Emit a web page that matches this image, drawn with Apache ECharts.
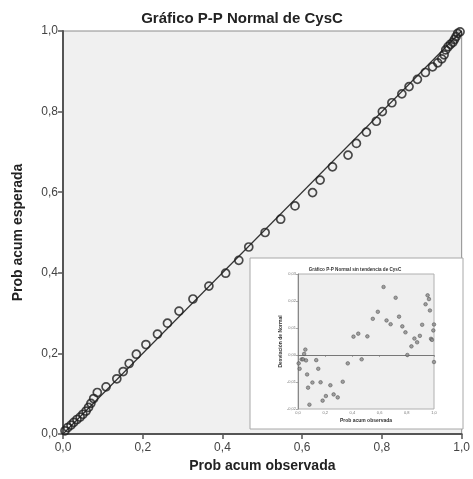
<!DOCTYPE html>
<html>
<head>
<meta charset="utf-8">
<script src="https://cdn.jsdelivr.net/npm/echarts@6/dist/echarts.min.js"></script>
<style>
html,body{margin:0;padding:0;background:#fff;}
#c{width:473px;height:479px;}
</style>
</head>
<body>
<div id="c"></div>
<script>
// ---- Data ----
var mainTitle = 'Gráfico P-P Normal de CysC';
var xName = 'Prob acum observada';
var yName = 'Prob acum esperada';
var mainTicks = ['0,0', '0,2', '0,4', '0,6', '0,8', '1,0'];

// Main P-P plot: observed cumulative prob vs expected cumulative prob
var observed = [0.005, 0.012, 0.020, 0.027, 0.035, 0.043, 0.050, 0.058, 0.064, 0.070,
  0.077, 0.086, 0.108, 0.135, 0.151, 0.166, 0.184, 0.208, 0.237, 0.262,
  0.291, 0.326, 0.366, 0.408, 0.441, 0.466, 0.507, 0.546, 0.582, 0.626,
  0.645, 0.676, 0.715, 0.736, 0.761, 0.786, 0.801, 0.825, 0.850, 0.868,
  0.889, 0.909, 0.927, 0.940, 0.950, 0.956, 0.960, 0.966, 0.972, 0.978,
  0.982, 0.986, 0.990, 0.996];
var expected = [0.008, 0.016, 0.022, 0.029, 0.036, 0.042, 0.049, 0.057, 0.066, 0.076,
  0.088, 0.103, 0.117, 0.137, 0.155, 0.175, 0.198, 0.222, 0.248, 0.275,
  0.305, 0.335, 0.367, 0.399, 0.431, 0.464, 0.500, 0.533, 0.566, 0.599,
  0.630, 0.663, 0.692, 0.721, 0.749, 0.776, 0.800, 0.822, 0.844, 0.862,
  0.880, 0.897, 0.911, 0.921, 0.931, 0.941, 0.953, 0.961, 0.967, 0.972,
  0.979, 0.986, 0.994, 0.998];
var refLine = [[0, 0], [1, 1]];

// Inset: detrended P-P plot
var insetTitle = 'Gráfico P-P Normal sin tendencia de CysC';
var insetYName = 'Desviación de Normal';
var insetXName = 'Prob acum observada';
var insetXTicks = ['0,0', '0,2', '0,4', '0,6', '0,8', '1,0'];
var insetYTicks = ['-0,02', '-0,01', '0,00', '0,01', '0,02', '0,03'];
var detObserved = [0.005, 0.012, 0.027, 0.037, 0.045, 0.054, 0.059, 0.067, 0.074, 0.084,
  0.106, 0.134, 0.149, 0.166, 0.181, 0.205, 0.238, 0.262, 0.292, 0.329,
  0.366, 0.408, 0.443, 0.468, 0.510, 0.550, 0.587, 0.629, 0.651, 0.681,
  0.718, 0.743, 0.767, 0.790, 0.804, 0.834, 0.856, 0.876, 0.896, 0.913,
  0.938, 0.953, 0.963, 0.970, 0.978, 0.985, 0.995, 1.000, 1.000];
var detDeviation = [-0.0031, -0.0051, -0.0016, -0.0016, 0.0004, 0.0020, -0.0020, -0.0072, -0.0121, -0.0184,
  -0.0102, -0.0019, -0.0051, -0.0101, -0.0169, -0.0152, -0.0112, -0.0146, -0.0157, -0.0099,
  -0.0031, 0.0068, 0.0079, -0.0016, 0.0069, 0.0134, 0.0160, 0.0252, 0.0128, 0.0114,
  0.0212, 0.0142, 0.0106, 0.0084, 0.0000, 0.0032, 0.0061, 0.0047, 0.0071, 0.0112,
  0.0188, 0.0221, 0.0207, 0.0165, 0.0060, 0.0056, 0.0091, 0.0113, -0.0026];

// ---- Build ----
var FONT = '"Liberation Sans", Arial, sans-serif';
var mainData = observed.map(function (v, i) { return [v, expected[i]]; });
var detData = detObserved.map(function (v, i) { return [v, detDeviation[i]]; });

var chart = echarts.init(document.getElementById('c'), null, { renderer: 'canvas' });

function mainLbl(v) { return mainTicks[Math.round(v / 0.2)]; }
function insetXLbl(v) { return insetXTicks[Math.round(v / 0.2)]; }
function insetYLbl(v) { return insetYTicks[Math.round(v * 100) + 2]; }

chart.setOption({
  animation: false,
  backgroundColor: '#ffffff',
  textStyle: { fontFamily: FONT },
  title: [{
    text: mainTitle,
    left: 237, top: 6, textAlign: 'center',
    textStyle: { fontSize: 15, fontWeight: 'bold', color: '#222', fontFamily: FONT }
  }, {
    text: insetTitle,
    left: 350, top: 262, textAlign: 'center',
    textStyle: { fontSize: 4.6, fontWeight: 'bold', color: '#333', fontFamily: FONT }
  }],
  graphic: [{
    type: 'rect', z: 1,
    shape: { x: 250, y: 258, width: 213, height: 171 },
    style: { fill: '#ffffff', stroke: '#a8a8a8', lineWidth: 1 }
  }],
  grid: [{
    left: 63, top: 31, width: 403, height: 403,
    show: true, backgroundColor: '#f0f0f0', borderColor: '#8c8c8c', borderWidth: 1
  }, {
    left: 298, top: 274, width: 136, height: 135, z: 3,
    show: true, backgroundColor: '#efefef', borderColor: '#b0b0b0', borderWidth: 1
  }],
  xAxis: [{
    gridIndex: 0, type: 'value', min: 0, max: 1, interval: 0.2,
    name: xName, nameLocation: 'middle', nameGap: 22,
    nameTextStyle: { fontSize: 14, fontWeight: 'bold', color: '#222', fontFamily: FONT },
    axisLine: { lineStyle: { color: '#555', width: 2 } },
    axisTick: { length: 5, lineStyle: { color: '#555', width: 1.5 } },
    axisLabel: { formatter: mainLbl, fontSize: 12, color: '#444', margin: 8, fontFamily: FONT },
    splitLine: { show: false }
  }, {
    gridIndex: 1, type: 'value', min: 0, max: 1, interval: 0.2, z: 4,
    name: insetXName, nameLocation: 'middle', nameGap: 9,
    nameTextStyle: { fontSize: 5, fontWeight: 'bold', color: '#333', fontFamily: FONT },
    axisLine: { lineStyle: { color: '#888', width: 1 } },
    axisTick: { length: 2, lineStyle: { color: '#888', width: 0.7 } },
    axisLabel: { formatter: insetXLbl, fontSize: 4, color: '#777', margin: 2, fontFamily: FONT },
    splitLine: { show: false }
  }],
  yAxis: [{
    gridIndex: 0, type: 'value', min: 0, max: 1, interval: 0.2,
    name: yName, nameLocation: 'middle', nameGap: 38,
    nameTextStyle: { fontSize: 14, fontWeight: 'bold', color: '#222', fontFamily: FONT },
    axisLine: { lineStyle: { color: '#555', width: 2 } },
    axisTick: { length: 5, lineStyle: { color: '#555', width: 1.5 } },
    axisLabel: { formatter: mainLbl, fontSize: 12, color: '#444', margin: 5, fontFamily: FONT },
    splitLine: { show: false }
  }, {
    gridIndex: 1, type: 'value', min: -0.02, max: 0.03, interval: 0.01, z: 4,
    name: insetYName, nameLocation: 'middle', nameGap: 14,
    nameTextStyle: { fontSize: 5, fontWeight: 'bold', color: '#333', fontFamily: FONT },
    axisLine: { lineStyle: { color: '#888', width: 1 } },
    axisTick: { length: 2, lineStyle: { color: '#888', width: 0.7 } },
    axisLabel: { formatter: insetYLbl, fontSize: 4, color: '#777', margin: 2, fontFamily: FONT },
    splitLine: { show: false }
  }],
  series: [{
    type: 'line', xAxisIndex: 0, yAxisIndex: 0, data: refLine,
    symbol: 'none', lineStyle: { color: '#333', width: 1.2 }, z: 2, silent: true
  }, {
    type: 'scatter', xAxisIndex: 0, yAxisIndex: 0, data: mainData,
    symbol: 'circle', symbolSize: 8,
    itemStyle: { color: 'rgba(0,0,0,0)', borderColor: '#1e1e1e', borderWidth: 1.7 },
    z: 3
  }, {
    type: 'scatter', xAxisIndex: 1, yAxisIndex: 1, data: detData,
    symbol: 'circle', symbolSize: 3.6,
    itemStyle: { color: '#8a8a8a', borderColor: '#444', borderWidth: 0.6 },
    z: 6,
    markLine: {
      silent: true, symbol: 'none', label: { show: false },
      lineStyle: { color: '#777', width: 1, type: 'solid' },
      data: [{ yAxis: 0 }]
    }
  }]
});
</script>
</body>
</html>
